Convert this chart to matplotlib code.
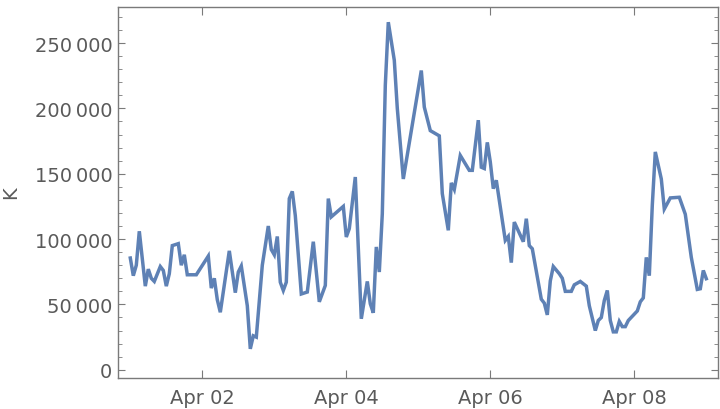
import pandas as pd
import matplotlib
matplotlib.use("Agg")
import matplotlib.pyplot as plt
import matplotlib.dates as mdates
from matplotlib.ticker import FuncFormatter, MultipleLocator

# hours after Apr 01 00:00 and the value at each point
hours = [0, 1, 2, 3, 5, 6, 7, 8, 10, 11, 12, 13, 14, 16, 17, 18, 19, 22, 26, 27,
         28, 29, 30, 33, 35, 36, 37, 39, 40, 41, 42, 44, 46, 47, 48, 49, 50, 51, 52, 53,
         54, 55, 57, 59, 61, 63, 65, 66, 67, 71, 72, 73, 75, 77, 79, 80, 81, 82, 83, 84,
         85, 86, 88, 89, 91, 97, 98, 100, 103, 104, 106, 107, 108, 110, 113, 114, 116, 117, 118, 119,
         120, 121, 122, 125, 126, 127, 128, 131, 132, 133, 134, 137, 138, 139, 140, 141, 143, 144, 145, 147,
         148, 150, 152, 153, 155, 156, 157, 158, 159, 160, 161, 162, 163, 164, 165, 166, 169, 170, 171, 172,
         173, 174, 175, 177, 178, 180, 183, 185, 187, 189, 190, 191, 192]
values = [85500, 72000, 80000, 106000, 64000, 77000, 70000, 67600, 79000, 76000,
          64000, 73500, 95000, 96500, 80000, 88000, 72700, 72700, 87000, 62500,
          70000, 53600, 44000, 91000, 59000, 74800, 79400, 49000, 16000, 26000,
          25000, 80000, 110000, 92000, 88000, 102000, 67000, 60700, 67000, 131000,
          136500, 118000, 58000, 59500, 98000, 52000, 64500, 131000, 117000, 125000,
          101600, 108000, 147500, 39000, 67600, 50500, 43600, 94000, 74800, 119400,
          217700, 266000, 236800, 200000, 146000, 229000, 201000, 183000, 179000, 134800,
          106700, 143000, 138000, 164000, 152600, 152600, 191000, 155000, 154000, 174000,
          159000, 138600, 145000, 99000, 102000, 82000, 113000, 98000, 115600, 95000,
          92600, 54000, 51000, 42000, 68000, 79000, 73500, 70000, 60000, 60000,
          65000, 67600, 64000, 49000, 30000, 37700, 40000, 53000, 60700, 37700,
          29000, 29000, 37000, 33000, 33000, 37700, 45000, 52000, 55000, 86000,
          72000, 126000, 166700, 146000, 123000, 131500, 132000, 119000, 86000, 61500,
          62000, 76000, 69700]

start = pd.Timestamp("2024-04-01")
times = start + pd.to_timedelta(hours, unit="h")

line_color = "#5e81b5"
frame_color = "#7a7a7a"
text_color = "#5a5a5a"

plt.rcParams["font.family"] = ["DejaVu Sans"]

fig = plt.figure(figsize=(7.2, 4.1), dpi=100)
ax = fig.add_axes([118 / 720, 31 / 410, 600 / 720, 371 / 410])

ax.plot(times, values, color=line_color, lw=2.5, solid_joinstyle="miter")

ax.set_xlim(start - pd.Timedelta(hours=4.1), start + pd.Timedelta(hours=195.9))
ax.set_ylim(-6300, 277600)

ax.xaxis.set_major_locator(mdates.DayLocator(bymonthday=[2, 4, 6, 8]))
ax.xaxis.set_major_formatter(mdates.DateFormatter("%b %d"))
ax.yaxis.set_major_locator(MultipleLocator(50000))
ax.yaxis.set_minor_locator(MultipleLocator(10000))
ax.yaxis.set_major_formatter(FuncFormatter(lambda v, p: f"{int(round(v)):,}".replace(",", "\u2009")))

for s in ax.spines.values():
    s.set_color(frame_color)
    s.set_linewidth(1.0)

ax.tick_params(axis="both", which="both", direction="in", colors=frame_color,
               labelcolor=text_color, labelsize=14, top=True, right=True)
ax.tick_params(axis="x", which="major", length=6, pad=7)
ax.tick_params(axis="y", which="major", length=5, pad=4)
ax.tick_params(axis="y", which="minor", length=3)

ax.set_ylabel("K", fontsize=14, color=text_color)
ax.yaxis.set_label_coords(-0.163, 0.503)

fig.savefig("out.png", dpi=100)
